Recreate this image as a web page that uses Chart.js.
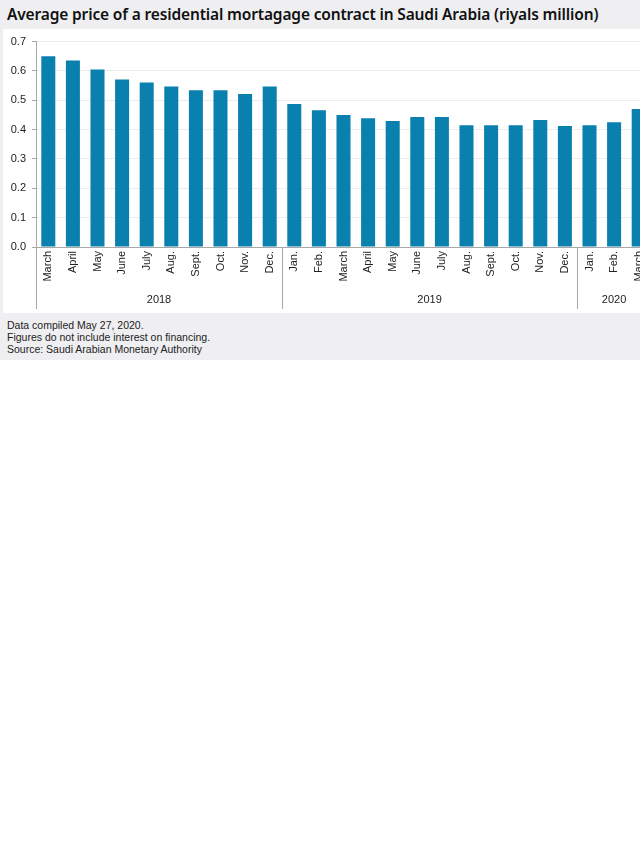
<!DOCTYPE html>
<html>
<head>
<meta charset="utf-8">
<script src="https://cdn.jsdelivr.net/npm/chart.js@4/dist/chart.umd.min.js"></script>
<style>
  html, body { margin: 0; padding: 0; background: #fff; overflow: hidden; width: 640px; height: 853px; }
  #frame { position: absolute; left: 0; top: 0; width: 640px; height: 360px; background: #efeff1; overflow: hidden; }
  #title { position: absolute; left: 7px; top: 3px; font-family: "Noto Sans", sans-serif; font-size: 15.5px; font-weight: 600; color: #111; white-space: nowrap; letter-spacing: -0.15px; }
  #panel { position: absolute; left: 3px; top: 29px; width: 660px; height: 284px; background: #fff; }
  #notes { position: absolute; left: 7px; top: 319px; font-family: "Liberation Sans", Arial, sans-serif; font-size: 10.5px; line-height: 12px; color: #222; }
</style>
</head>
<body>
<div id="frame">
  <div id="title">Average price of a residential mortagage contract in Saudi Arabia (riyals million)</div>
  <div id="panel"><canvas id="priceChart" width="660" height="284"></canvas></div>
  <div id="notes">Data compiled May 27, 2020.<br>Figures do not include interest on financing.<br>Source: Saudi Arabian Monetary Authority</div>
</div>
<script>
const months = [
  "March", "April", "May", "June", "July", "Aug.", "Sept.", "Oct.", "Nov.", "Dec.",
  "Jan.", "Feb.", "March", "April", "May", "June", "July", "Aug.", "Sept.", "Oct.", "Nov.", "Dec.",
  "Jan.", "Feb.", "March",
];
const years = ["2018", "2019", "2020"];
const monthsPerYear = [10, 12, 3];
const avgPrice = [
  0.650, 0.636, 0.605, 0.571, 0.561, 0.547, 0.534, 0.534, 0.521, 0.547,
  0.487, 0.466, 0.450, 0.439, 0.429, 0.443, 0.443, 0.415, 0.415, 0.415, 0.433, 0.412,
  0.415, 0.425, 0.470,
];

// year group labels and long separator lines under the month labels
const yearGroups = {
  id: "yearGroups",
  afterDraw(chart) {
    const ctx = chart.ctx;
    const x = chart.scales.x;
    const area = chart.chartArea;
    const half = (x.getPixelForValue(1) - x.getPixelForValue(0)) / 2;
    const bottom = area.bottom + 62;
    ctx.save();
    ctx.strokeStyle = "#a8a8a8";
    ctx.lineWidth = 1;
    let start = 0;
    years.forEach((year, i) => {
      const left = x.getPixelForValue(start) - half;
      const right = x.getPixelForValue(start + monthsPerYear[i] - 1) + half;
      const lx = Math.round(left) + 0.5;
      ctx.beginPath();
      ctx.moveTo(lx, area.bottom);
      ctx.lineTo(lx, bottom);
      ctx.stroke();
      ctx.fillStyle = "#222";
      ctx.font = "11px 'Liberation Sans', Arial, sans-serif";
      ctx.textAlign = "center";
      ctx.textBaseline = "middle";
      ctx.fillText(year, (left + right) / 2, area.bottom + 53);
      start += monthsPerYear[i];
    });
    ctx.restore();
  },
};

new Chart(document.getElementById("priceChart").getContext("2d"), {
  type: "bar",
  data: {
    labels: months,
    datasets: [
      {
        label: "Average price",
        data: avgPrice,
        backgroundColor: "#0a80ae",
        barPercentage: 0.57,
        categoryPercentage: 1,
      },
    ],
  },
  options: {
    animation: false,
    responsive: false,
    layout: { padding: { top: 4, right: 12, left: 0, bottom: 0 } },
    plugins: { legend: { display: false }, tooltip: { enabled: false } },
    scales: {
      x: {
        grid: { display: false, drawTicks: false },
        border: { color: "#a8a8a8" },
        ticks: {
          minRotation: 90,
          maxRotation: 90,
          autoSkip: false,
          padding: 4,
          color: "#222",
          font: { family: "'Liberation Sans', Arial, sans-serif", size: 11 },
        },
        afterFit(scale) { scale.height = 66; },
      },
      y: {
        min: 0,
        max: 0.7,
        grid: { color: "#ececec", tickColor: "#a8a8a8", tickLength: 4 },
        border: { color: "#a8a8a8" },
        ticks: {
          stepSize: 0.1,
          padding: 6,
          color: "#222",
          font: { family: "'Liberation Sans', Arial, sans-serif", size: 11 },
          callback: (v) => v.toFixed(1),
        },
        afterFit(scale) { scale.width = 33; },
      },
    },
  },
  plugins: [yearGroups],
});
</script>
</body>
</html>
